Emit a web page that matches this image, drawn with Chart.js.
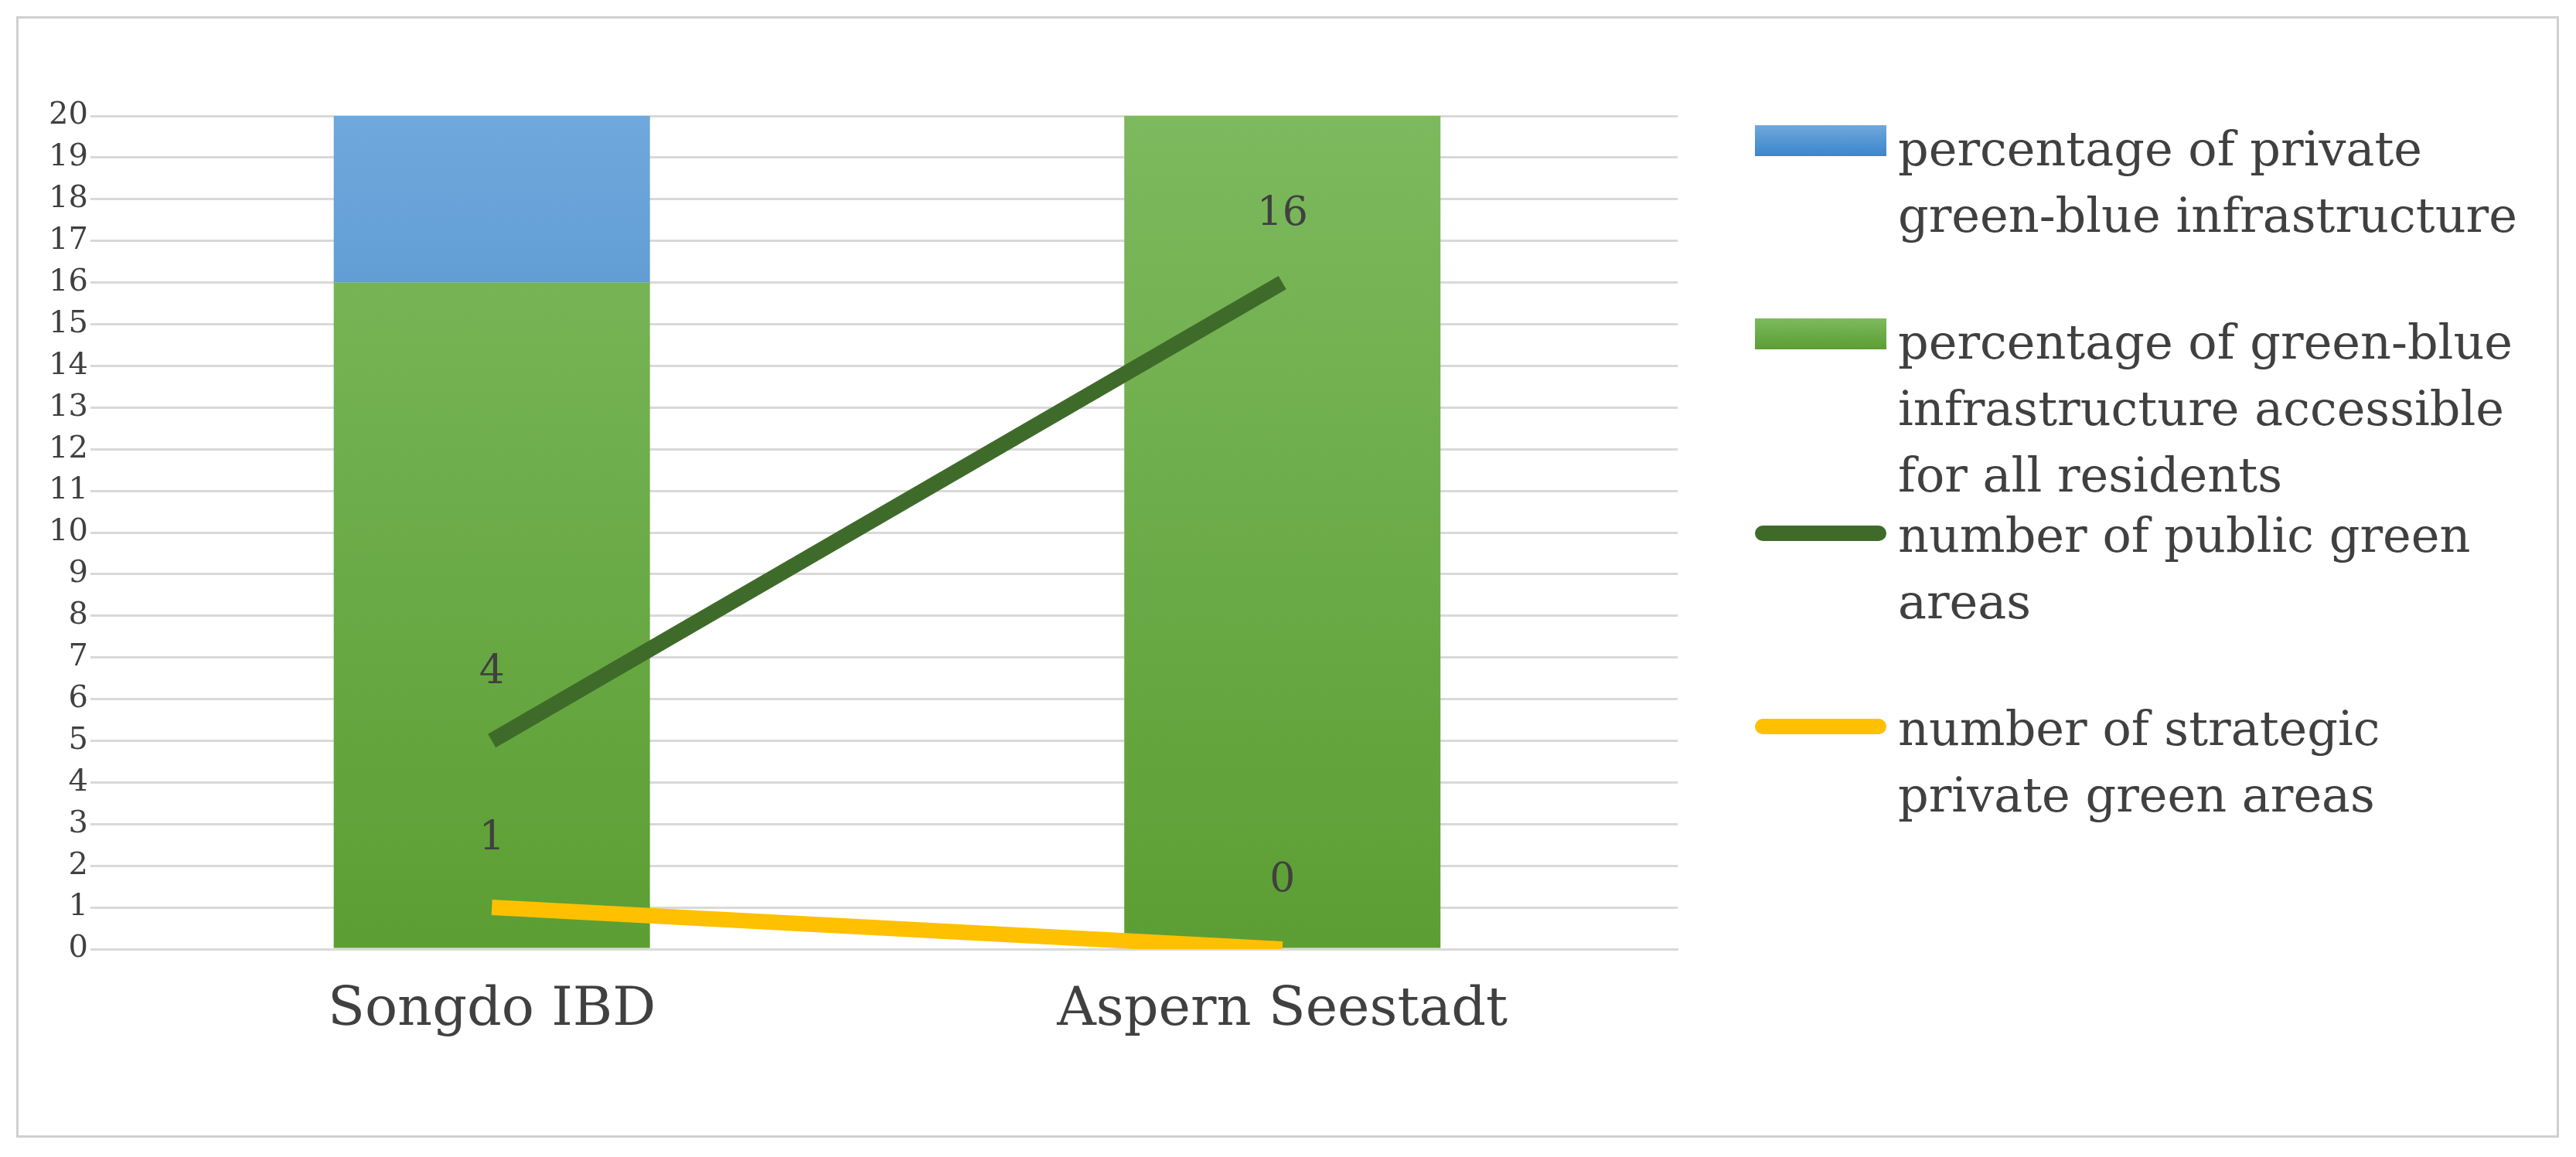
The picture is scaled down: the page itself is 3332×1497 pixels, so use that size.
<!DOCTYPE html>
<html>
<head>
<meta charset="utf-8">
<script src="https://cdn.jsdelivr.net/npm/chart.js@4"></script>
<style>
body { margin:0; background:#fff; width:3332px; height:1497px; position:relative; font-family:"DejaVu Serif","Liberation Serif",serif; }
#frame { position:absolute; left:21px; top:21px; width:3283px; height:1445px; border:3px solid #d0d0d0; }
#wrap { position:absolute; left:20px; top:100px; width:2200px; height:1280px; }
#legend { position:absolute; left:2270px; top:150px; width:1050px; color:#404040; font-size:62px; line-height:86px; }
.item { position:relative; padding-left:185px; height:250px; }
.sw { position:absolute; left:0; }
</style>
</head>
<body>
<div id="frame"></div>
<div id="wrap"><canvas id="c"></canvas></div>
<div id="legend">
  <div class="item"><span class="sw" style="top:12px;width:170px;height:40px;background:linear-gradient(#6fa8dc,#3a86cc)"></span>percentage of private green-blue infrastructure</div>
  <div class="item"><span class="sw" style="top:12px;width:170px;height:40px;background:linear-gradient(#7db95e,#5c9e33)"></span>percentage of green-blue infrastructure accessible for all residents</div>
  <div class="item"><span class="sw" style="top:30px;width:170px;height:20px;border-radius:10px;background:#3f6b2a"></span>number of public green areas</div>
  <div class="item"><span class="sw" style="top:30px;width:170px;height:20px;border-radius:10px;background:#ffc000"></span>number of strategic private green areas</div>
</div>
<script>
const categories = ['Songdo IBD', 'Aspern Seestadt'];
const privateGB = [4, 0];
const accessibleGB = [16, 20];
const publicAreas = [5, 16];
const publicLabels = ['4', '16'];
const strategicAreas = [1, 0];
const strategicLabels = ['1', '0'];

function grad(ctx, area, top, bottom) {
    const g = ctx.createLinearGradient(0, area.top, 0, area.bottom);
    g.addColorStop(0, top);
    g.addColorStop(1, bottom);
    return g;
}

const labelPlugin = {
    id: 'pointLabels',
    afterDatasetsDraw(chart) {
        const ctx = chart.ctx;
        ctx.save();
        ctx.font = '52px "DejaVu Serif", serif';
        ctx.fillStyle = '#404040';
        ctx.textAlign = 'center';
        [[2, publicLabels], [3, strategicLabels]].forEach(([di, labels]) => {
            chart.getDatasetMeta(di).data.forEach((pt, i) => {
                ctx.fillText(labels[i], pt.x, pt.y - 75);
            });
        });
        ctx.restore();
    }
};

new Chart(document.getElementById('c'), {
    type: 'bar',
    data: {
        labels: categories,
        datasets: [
            {
                label: 'percentage of green-blue infrastructure accessible for all residents',
                data: accessibleGB, order: 3, stack: 'bars',
                backgroundColor: c => c.chart.chartArea ? grad(c.chart.ctx, c.chart.chartArea, '#7db95e', '#5c9e33') : '#70ad47'
            },
            {
                label: 'percentage of private green-blue infrastructure',
                data: privateGB, order: 3, stack: 'bars',
                backgroundColor: c => c.chart.chartArea ? grad(c.chart.ctx, c.chart.chartArea, '#6fa8dc', '#2e75b6') : '#5b9bd5'
            },
            {
                type: 'line', label: 'number of public green areas', data: publicAreas, order: 1,
                borderColor: '#3f6b2a', borderWidth: 20, pointRadius: 0, stack: 'l1'
            },
            {
                type: 'line', label: 'number of strategic private green areas', data: strategicAreas, order: 0,
                borderColor: '#ffc000', borderWidth: 20, pointRadius: 0, stack: 'l2'
            }
        ]
    },
    options: {
        responsive: true, maintainAspectRatio: false, animation: false,
        layout: { padding: { top: 50, right: 50, left: 40 } },
        plugins: { legend: { display: false }, tooltip: { enabled: false } },
        datasets: { bar: { barPercentage: 0.4, categoryPercentage: 1 } },
        scales: {
            x: {
                stacked: true,
                grid: { display: false },
                border: { color: '#d9d9d9', width: 3 },
                ticks: { color: '#404040', font: { size: 70, family: '"DejaVu Serif", serif' }, padding: 30 }
            },
            y: {
                stacked: true, min: 0, max: 20,
                ticks: { stepSize: 1, color: '#404040', font: { size: 40, family: '"DejaVu Serif", serif' } },
                grid: { color: '#d9d9d9', lineWidth: 3 },
                border: { display: false }
            }
        }
    },
    plugins: [labelPlugin]
});
</script>
</body>
</html>
